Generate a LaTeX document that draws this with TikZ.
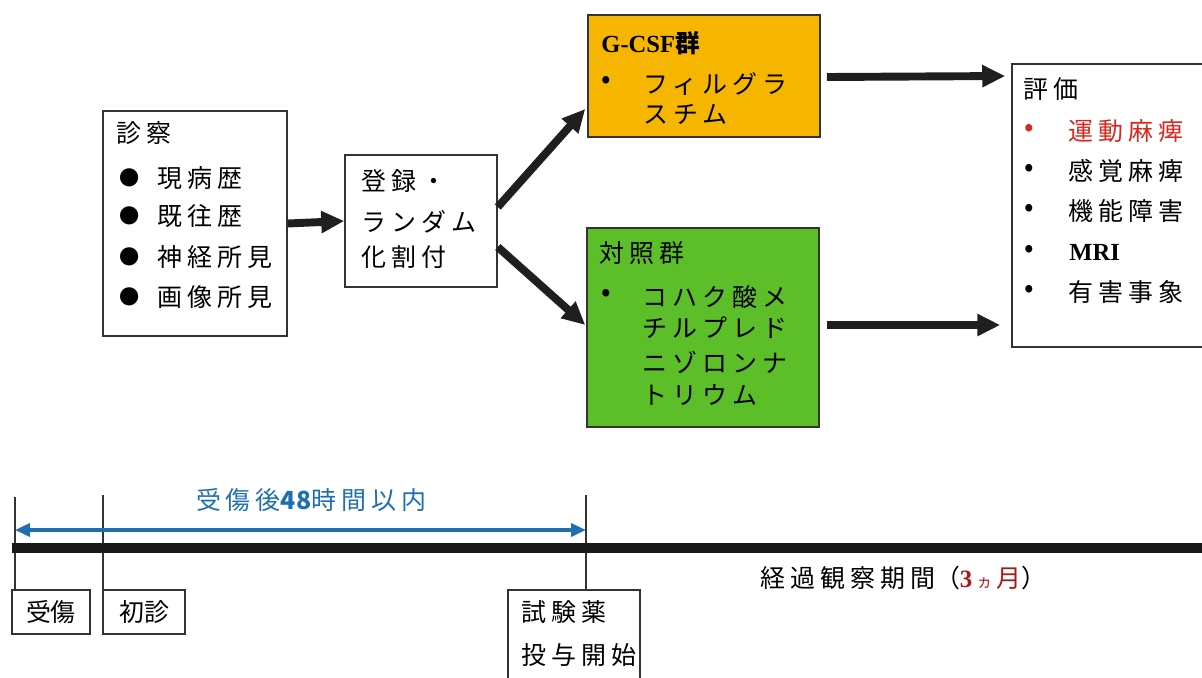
\documentclass[tikz,border=0pt]{standalone}
\usepackage{fontspec}
\setmainfont{Liberation Serif}
\newfontfamily\jp[LetterSpace=20]{Noto Sans CJK JP}
\newfontfamily\jpn{Noto Sans CJK JP}
\usetikzlibrary{arrows.meta,calc}
\definecolor{gold}{RGB}{246,182,0}
\definecolor{grn}{RGB}{92,190,40}
\definecolor{blu}{RGB}{30,110,180}
\definecolor{dred}{RGB}{170,25,25}
\definecolor{bred}{RGB}{215,40,30}
\begin{document}
\begin{tikzpicture}[x=0.02cm,y=-0.02cm,
 box/.style={draw=black!80, line width=0.9pt, inner sep=0pt},
 txt/.style={anchor=west, inner sep=0pt, font=\fontsize{14.2}{16}\selectfont\jp},
 ctxt/.style={inner sep=0pt, font=\fontsize{14.2}{16}\selectfont\jp},
 bigbul/.style={inner sep=0pt, font=\fontsize{11.5}{13}\selectfont\jpn},
 bul/.style={inner sep=0pt, font=\fontsize{16}{16}\selectfont\jpn},
 flow/.style={line width=4.5pt, black!88, -{Triangle[length=0.46cm,width=0.42cm]}},
 tickline/.style={line width=0.6pt, black!80}
]
\useasboundingbox (0,0) rectangle (1202,677);
\clip (0,0) rectangle (1202,677);

% ---- boxes ----
\node[box, minimum width=3.68cm, minimum height=4.5cm] (shin) at (195,223.5) {};
\node[box, minimum width=3.04cm, minimum height=2.64cm] (reg) at (421,221) {};
\node[box, fill=gold, minimum width=4.64cm, minimum height=2.44cm] (gcsf) at (704,76) {};
\node[box, fill=grn, minimum width=4.64cm, minimum height=3.98cm] (ctrl) at (703,327.5) {};
\node[box, minimum width=4.06cm, minimum height=5.66cm] (eval) at (1113.5,205.5) {};

% ---- 診察 ----
\node[txt] (s0) at (116,133) {診察};
\node[bigbul] (sb1) at (130,178) {●};
\node[bigbul] (sb2) at (130,216) {●};
\node[bigbul] (sb3) at (130,257) {●};
\node[bigbul] (sb4) at (130,297) {●};
\node[txt] (s1) at (157,178) {現病歴};
\node[txt] (s2) at (157,216) {既往歴};
\node[txt] (s3) at (157,257) {神経所見};
\node[txt] (s4) at (157,297) {画像所見};

% ---- 登録 ----
\node[txt] (r1) at (361,181) {登録・};
\node[txt] (r2) at (361,222) {ランダム};
\node[txt] (r3) at (361,257) {化割付};

% ---- G-CSF ----
\node[anchor=west, inner sep=0pt, font=\fontsize{14}{16}\selectfont] (g0) at (601,43) {\textbf{G-CSF}{\jpn\bfseries 群}};
\node[bul] (gb) at (606,82) {•};
\node[txt] (g1) at (643,84) {フィルグラ};
\node[txt] (g2) at (643,114) {スチム};

% ---- 対照群 ----
\node[txt] (c0) at (599,253) {対照群};
\node[bul] (cb) at (606,295) {•};
\node[txt] (c1) at (642,297) {コハク酸メ};
\node[txt] (c2) at (642,328) {チルプレド};
\node[txt] (c3) at (642,362) {ニゾロンナ};
\node[txt] (c4) at (642,395) {トリウム};

% ---- 評価 ----
\node[txt] (e0) at (1023,89) {評価};
\node[bul, text=bred] (eb1) at (1029,130) {•};
\node[bul] (eb2) at (1029,170) {•};
\node[bul] (eb3) at (1029,210) {•};
\node[bul] (eb4) at (1029,251) {•};
\node[bul] (eb5) at (1029,291) {•};
\node[txt, text=bred] (e1) at (1068,131) {運動麻痺};
\node[txt] (e2) at (1068,171) {感覚麻痺};
\node[txt] (e3) at (1068,211) {機能障害};
\node[anchor=west, inner sep=0pt, font=\fontsize{14}{16}\selectfont\bfseries] (e4) at (1069,252) {MRI};
\node[txt] (e5) at (1068,292) {有害事象};

% ---- flow arrows ----
\draw[flow] (shin.east) -- (reg.west);
\draw[flow] ([yshift=0.28cm]reg.east) -- ([shift={(-0.04cm,-0.66cm)}]gcsf.west);
\draw[flow] ([yshift=-0.52cm]reg.east) -- ([shift={(-0.02cm,0.05cm)}]ctrl.west);
\draw[flow] ([xshift=0.12cm,yshift=-0.02cm]gcsf.east) -- ([xshift=-0.12cm]gcsf.east -| eval.west);
\draw[flow] ([xshift=0.14cm,yshift=0.05cm]ctrl.east) -- ([xshift=-0.22cm,yshift=0.05cm]ctrl.east -| eval.west);

% ---- timeline ----
\coordinate (tl0) at (12,548);
\coordinate (tl1) at (1202,548);
\node[box, minimum width=1.56cm, minimum height=0.88cm, font=\fontsize{14.2}{16}\selectfont\jpn] (jusho) at (51,612) {受傷};
\node[box, minimum width=1.64cm, minimum height=0.88cm, font=\fontsize{14.2}{16}\selectfont\jpn] (shoshin) at (144,612) {初診};
\node[box, minimum width=2.64cm, minimum height=2cm] (drug) at (574,640) {};
\node[txt] (d1) at (521,612) {試験薬};
\node[txt] (d2) at (521,655) {投与開始};

\coordinate (v1) at (15,497);
\coordinate (v2) at (103,495);
\coordinate (v3) at (586,495);
\draw[tickline] (v1) -- (v1 |- jusho.north);
\draw[tickline] (v2) -- (v2 |- shoshin.north);
\draw[tickline] (v3) -- (v3 |- drug.north);

\draw[line width=5.5pt, black!90] (tl0) -- (tl1);

\coordinate (a0) at (15,530);
\coordinate (a1) at (586,530);
\draw[blu, line width=2pt, {Triangle[length=0.3cm,width=0.26cm]}-{Triangle[length=0.3cm,width=0.26cm]}] (a0) -- (a1);
\node[ctxt, text=blu] (lbl) at (311,500) {受傷後{\jpn\bfseries 48}時間以内};

\node[txt] (obs) at (760,578) {経過観察期間{\jpn （}\textcolor{dred}{{\rmfamily\bfseries 3}\,{\jpn\fontsize{9}{10}\selectfont ヵ}\,{\jpn 月}}{\jpn ）}};
\end{tikzpicture}
\end{document}
